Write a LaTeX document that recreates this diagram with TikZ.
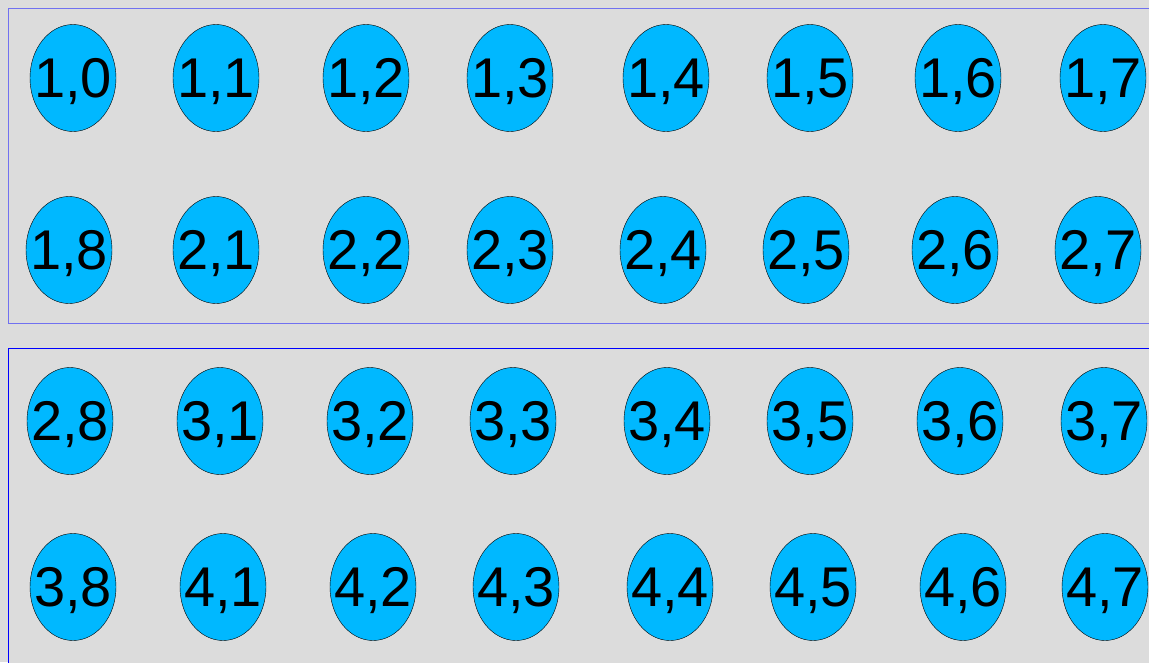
\documentclass[tikz,border=0pt]{standalone}
\usepackage{fontspec}
\setmainfont{Liberation Sans}
\usepackage{xcolor}
\usepackage{tikz}
\usetikzlibrary{shapes.geometric}

\definecolor{panelgray}{HTML}{DCDCDC}
\definecolor{cellblue}{HTML}{00B8FF}
\definecolor{lightedge}{HTML}{7070F0}

\begin{document}
\begin{tikzpicture}[x=1pt, y=-1pt,
    cell/.style={draw=black, fill=cellblue, ellipse, minimum width=86pt, minimum height=107pt,
        inner sep=-12pt, text depth=0pt, font=\fontsize{56}{56}\selectfont},
    panel/.style={fill=panelgray, line width=1pt}]

    % Background and margins
    \fill[panelgray] (0,0) rectangle (1149,662);
    \useasboundingbox (0,0) rectangle (1149,662);

    % Upper panel
    \draw[panel, draw=lightedge] (8,8) rectangle (1160,323);

    \node[cell] (c10) at (73,78) {1,0};
    \node[cell] (c11) at (216,78) {1,1};
    \node[cell] (c12) at (366,78) {1,2};
    \node[cell] (c13) at (510,78) {1,3};
    \node[cell] (c14) at (666,78) {1,4};
    \node[cell] (c15) at (810,78) {1,5};
    \node[cell] (c16) at (958,78) {1,6};
    \node[cell] (c17) at (1103,78) {1,7};

    \node[cell] (c18) at (69,250) {1,8};
    \node[cell] (c21) at (216,250) {2,1};
    \node[cell] (c22) at (366,250) {2,2};
    \node[cell] (c23) at (510,250) {2,3};
    \node[cell] (c24) at (663,250) {2,4};
    \node[cell] (c25) at (806,250) {2,5};
    \node[cell] (c26) at (955,250) {2,6};
    \node[cell] (c27) at (1098,250) {2,7};

    % Lower panel
    \draw[panel, draw=blue] (8,348) rectangle (1160,680);

    \node[cell] (c28) at (70,421) {2,8};
    \node[cell] (c31) at (220,421) {3,1};
    \node[cell] (c32) at (370,421) {3,2};
    \node[cell] (c33) at (513,421) {3,3};
    \node[cell] (c34) at (667,421) {3,4};
    \node[cell] (c35) at (810,421) {3,5};
    \node[cell] (c36) at (960,421) {3,6};
    \node[cell] (c37) at (1104,421) {3,7};

    \node[cell] (c38) at (73,587) {3,8};
    \node[cell] (c41) at (223,587) {4,1};
    \node[cell] (c42) at (373,587) {4,2};
    \node[cell] (c43) at (516,587) {4,3};
    \node[cell] (c44) at (670,587) {4,4};
    \node[cell] (c45) at (813,587) {4,5};
    \node[cell] (c46) at (963,587) {4,6};
    \node[cell] (c47) at (1105,587) {4,7};

\end{tikzpicture}
\end{document}
